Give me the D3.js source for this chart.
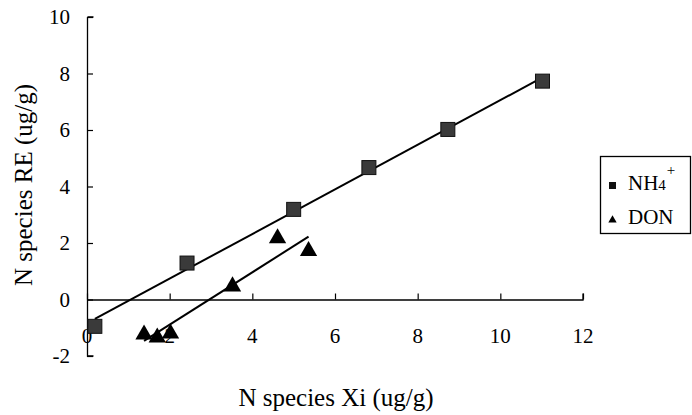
<!DOCTYPE html>
<html>
<head>
<meta charset="utf-8">
<script src="https://cdn.jsdelivr.net/npm/d3@7/dist/d3.min.js"></script>
<style>
html,body{margin:0;padding:0;background:#fff;}
</style>
</head>
<body>
<svg id="chart" width="692" height="415"></svg>
<script>
// Data
const nh4X = [0.19, 2.42, 5.0, 6.82, 8.73, 11.02];
const nh4Y = [-0.95, 1.29, 3.19, 4.67, 6.02, 7.73];
const donX = [1.38, 1.70, 2.02, 3.52, 4.61, 5.36];
const donY = [-1.20, -1.31, -1.17, 0.50, 2.20, 1.75];
const xTicks = [0, 2, 4, 6, 8, 10, 12];
const yTicks = [-2, 0, 2, 4, 6, 8, 10];
const seriesNames = ["NH4", "DON"];

const FONT = "Liberation Serif";
const svg = d3.select("#chart");
const x = d3.scaleLinear().domain([0, 12]).range([87, 583]);
const y = d3.scaleLinear().domain([-2, 10]).range([356, 17]);

function fit(xs, ys) {
  const mx = d3.mean(xs), my = d3.mean(ys);
  let sxy = 0, sxx = 0;
  xs.forEach((v, i) => { sxy += (v - mx) * (ys[i] - my); sxx += (v - mx) * (v - mx); });
  const b = sxy / sxx, a = my - b * mx;
  const x0 = d3.min(xs), x1 = d3.max(xs);
  return [[x0, a + b * x0], [x1, a + b * x1]];
}

// Y axis
const yAxis = d3.axisRight(y).tickValues(yTicks).tickSize(6).tickFormat("");
const gy = svg.append("g").attr("transform", `translate(${x(0)},0)`).call(yAxis);
gy.select(".domain").attr("d", `M0.5,${y(10)}H6.5M0.5,${y(10)}V${y(-2)}H6.5`).attr("stroke", "#000").attr("stroke-width", 1.3);
gy.selectAll(".tick line").attr("stroke", "#000").attr("stroke-width", 1.2);

svg.append("g").selectAll("text").data(yTicks).join("text")
  .attr("x", 70).attr("y", d => y(d) + 7)
  .attr("text-anchor", "end").style("font-size", "21px").style("font-family", FONT).attr("fill", "#000")
  .text(d => d);

// X axis at y = 0
const xAxis = d3.axisTop(x).tickValues(xTicks).tickSize(6).tickFormat("");
const gx = svg.append("g").attr("transform", `translate(0,${y(0)})`).call(xAxis);
gx.select(".domain").attr("d", `M${x(0)},0.5H${x(12)}V-6`).attr("stroke", "#000").attr("stroke-width", 1.3);
gx.selectAll(".tick line").attr("stroke", "#000").attr("stroke-width", 1.2);

svg.append("g").selectAll("text").data(xTicks).join("text")
  .attr("x", d => x(d)).attr("y", 343)
  .attr("text-anchor", "middle").style("font-size", "21px").style("font-family", FONT).attr("fill", "#000")
  .text(d => d);

// Trend lines
const line = d3.line().x(d => x(d[0])).y(d => y(d[1]));
svg.append("path").attr("d", line(fit(nh4X, nh4Y))).attr("stroke", "#000").attr("stroke-width", 2).attr("fill", "none");
svg.append("path").attr("d", line(fit(donX, donY))).attr("stroke", "#000").attr("stroke-width", 2).attr("fill", "none");

// Markers
const sq = 14;
svg.append("g").selectAll("rect").data(nh4X.map((v, i) => [v, nh4Y[i]])).join("rect")
  .attr("x", d => x(d[0]) - sq / 2).attr("y", d => y(d[1]) - sq / 2)
  .attr("width", sq).attr("height", sq)
  .attr("fill", "#3a3a3a").attr("stroke", "#111").attr("stroke-width", 1);

const tri = d3.symbol().type(d3.symbolTriangle).size(130);
svg.append("g").selectAll("path").data(donX.map((v, i) => [v, donY[i]])).join("path")
  .attr("d", tri)
  .attr("transform", d => `translate(${x(d[0])},${y(d[1]) + 1})`)
  .attr("fill", "#000");

// Axis titles
svg.append("text").attr("x", 336).attr("y", 406).attr("text-anchor", "middle")
  .style("font-size", "25px").style("font-family", FONT).attr("fill", "#000").text("N species Xi (ug/g)");
svg.append("text").attr("transform", "translate(32,185) rotate(-90)").attr("text-anchor", "middle")
  .style("font-size", "25px").style("font-family", FONT).attr("fill", "#000").text("N species RE (ug/g)");

// Legend
const lg = svg.append("g");
lg.append("rect").attr("x", 600.5).attr("y", 156.5).attr("width", 90).attr("height", 77)
  .attr("fill", "#fff").attr("stroke", "#000").attr("stroke-width", 1.3);
lg.append("rect").attr("x", 609).attr("y", 182).attr("width", 7).attr("height", 7).attr("fill", "#111");
lg.append("path").attr("d", d3.symbol().type(d3.symbolTriangle).size(30)).attr("transform", "translate(612.5,220)").attr("fill", "#000");
const t1 = lg.append("text").attr("x", 628).attr("y", 190).style("font-size", "21px").style("font-family", FONT).attr("fill", "#000");
t1.append("tspan").text("NH");
t1.append("tspan").style("font-size", "15px").text("4");
t1.append("tspan").style("font-size", "15px").attr("dy", -15).attr("dx", 1).text("+");
lg.append("text").attr("x", 628).attr("y", 224).style("font-size", "21px").style("font-family", FONT).attr("fill", "#000").text(seriesNames[1]);
</script>
</body>
</html>
